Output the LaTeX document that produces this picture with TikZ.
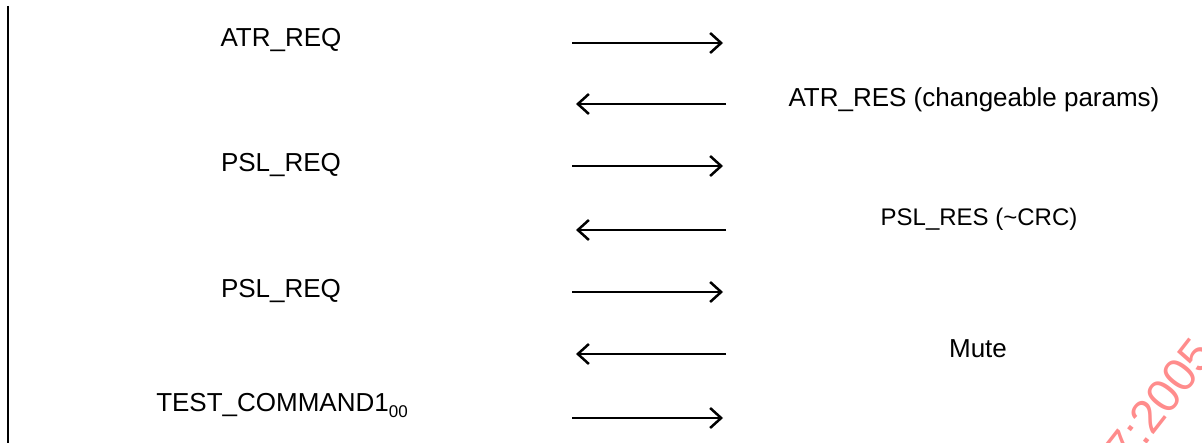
\documentclass[tikz,border=0pt]{standalone}
\usepackage{fontspec}
\setmainfont{Liberation Sans}
\usetikzlibrary{arrows.meta}
\begin{document}
\begin{tikzpicture}[x=1pt,y=-1pt,
  msg/.style={-{Straight Barb[length=11pt,width=20pt]}, line width=2.5pt},
  lbl/.style={font=\fontsize{26}{30}\selectfont, inner sep=0pt, anchor=base},
  ]
\useasboundingbox (0,0) rectangle (1202,443);
% lifeline
\coordinate (ltop) at (8,6);
\coordinate (lbot) at (8,443);
\draw[line width=1.5pt] (ltop) -- (lbot);
% labels
\node[lbl] (atrreq) at (281,47) {ATR\_REQ};
\node[lbl] (atrres) at (974,107) {ATR\_RES (changeable params)};
\node[lbl] (pslreqa) at (281,172) {PSL\_REQ};
\node[lbl, font=\fontsize{24}{28}\selectfont] (pslres) at (979,226) {PSL\_RES (\textasciitilde CRC)};
\node[lbl] (pslreqb) at (281,298) {PSL\_REQ};
\node[lbl] (mute) at (978,358) {Mute};
\node[lbl] (test) at (282,411) {TEST\_COMMAND1\raisebox{-6pt}{\fontsize{17}{17}\selectfont 00}};
% arrow end points
\coordinate (r1a) at (572,43);  \coordinate (r1b) at (723,43);
\coordinate (l1a) at (726,104); \coordinate (l1b) at (576,104);
\coordinate (r2a) at (572,166); \coordinate (r2b) at (723,166);
\coordinate (l2a) at (726,230); \coordinate (l2b) at (576,230);
\coordinate (r3a) at (572,292); \coordinate (r3b) at (723,292);
\coordinate (l3a) at (726,354); \coordinate (l3b) at (576,354);
\coordinate (r4a) at (572,418); \coordinate (r4b) at (723,418);
\draw[msg] (r1a) -- (r1b);
\draw[msg] (l1a) -- (l1b);
\draw[msg] (r2a) -- (r2b);
\draw[msg] (l2a) -- (l2b);
\draw[msg] (r3a) -- (r3b);
\draw[msg] (l3a) -- (l3b);
\draw[msg] (r4a) -- (r4b);
% watermark
\begin{scope}
\clip (0,0) rectangle (1202,443);
\node[font=\fontsize{47}{47}\selectfont, text=red!45, rotate=52, anchor=base west, inner sep=0pt] (wm) at (1128,468) {7:2005};
\end{scope}
\end{tikzpicture}
\end{document}
